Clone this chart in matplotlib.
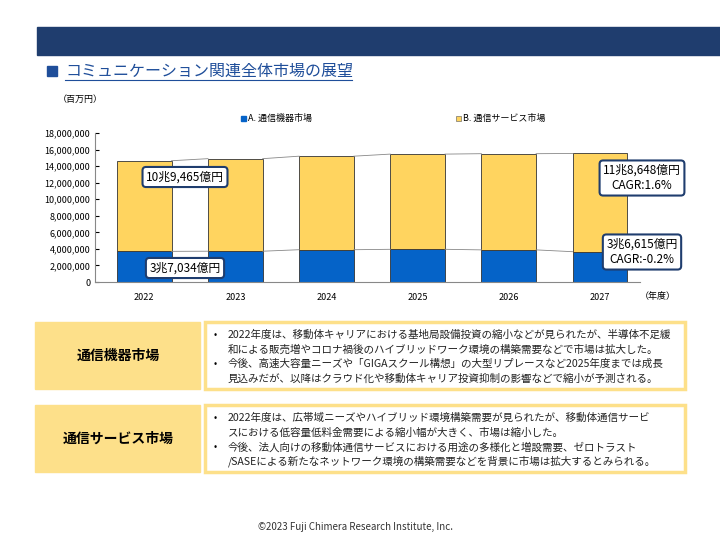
import matplotlib.pyplot as plt
import matplotlib.patches as patches
import numpy as np

plt.rcParams['font.family'] = ['Noto Sans CJK JP', 'DejaVu Sans']

years = ['2022', '2023', '2024', '2025', '2026', '2027']
device = [3703400, 3720000, 3900000, 3950000, 3880000, 3661500]
service = [10946500, 11180000, 11300000, 11500000, 11620000, 11864800]
yticks = list(range(0, 18000001, 2000000))

W, H = 720, 540
fig = plt.figure(figsize=(7.2, 5.4), dpi=100)

def rect(x, y, w, h, **kw):
    # pixel coords, y from top
    fig.patches.append(patches.Rectangle((x / W, 1 - (y + h) / H), w / W, h / H,
                                         transform=fig.transFigure, **kw))

def txt(x, y, s, **kw):
    fig.text(x / W, 1 - y / H, s, **kw)

rect(37, 27, 683, 28, color='#1f3d6e')
rect(47, 66, 10, 10, color='#1f4e9a')
txt(65, 71, 'コミュニケーション関連全体市場の展望', fontsize=11.5, color='#1f4e9a',
    va='center')
fig.lines.append(plt.Line2D([65 / W, 352 / W], [1 - 80 / H, 1 - 80 / H],
                            transform=fig.transFigure, color='#1f4e9a', lw=0.8))

ax = fig.add_axes([95 / W, 1 - 282 / H, (640 - 95) / W, (282 - 133) / H])
x = np.arange(len(years))
bw = 0.6
ax.bar(x, device, bw, color='#0563c8', edgecolor='#333333', lw=0.6)
ax.bar(x, service, bw, bottom=device, color='#ffd45f', edgecolor='#333333', lw=0.6)
tot = np.array(device) + np.array(service)
for i in range(len(x) - 1):
    ax.plot([x[i] + bw / 2, x[i + 1] - bw / 2], [tot[i], tot[i + 1]], color='#888888', lw=0.6)
    ax.plot([x[i] + bw / 2, x[i + 1] - bw / 2], [device[i], device[i + 1]], color='#888888', lw=0.6)
ax.set_xlim(-0.54, 5.44)
ax.set_ylim(0, 18000000)
ax.set_yticks(yticks)
ax.set_yticklabels([f'{v:,}' for v in yticks], fontsize=6.5)
ax.set_xticks(x)
ax.set_xticklabels(years, fontsize=6.5)
ax.tick_params(axis='x', length=0, pad=8)
ax.tick_params(axis='y', length=3, direction='in')
for s in ['top', 'right']:
    ax.spines[s].set_visible(False)
ax.spines['left'].set_color('#888888')
ax.spines['bottom'].set_color('#888888')

txt(58, 99, '（百万円）', fontsize=6.5, va='center')
txt(640, 297, '（年度）', fontsize=6.5, va='center')
rect(241, 116, 5, 5, color='#0563c8')
txt(248, 118, 'A. 通信機器市場', fontsize=6.5, va='center')
rect(456, 116, 5, 5, color='#ffd45f', ec='#555555', lw=0.4)
txt(463, 118, 'B. 通信サービス市場', fontsize=6.5, va='center')

box = dict(boxstyle='round,pad=0.3', fc='white', ec='#1f3d6e', lw=1.5)
txt(185, 177, '10兆9,465億円', fontsize=8.5, ha='center', va='center', bbox=box)
txt(185, 268, '3兆7,034億円', fontsize=8.5, ha='center', va='center', bbox=box)
txt(642, 178, '11兆8,648億円\nCAGR:1.6%', fontsize=8.5, ha='center', va='center',
    bbox=box, linespacing=1.2)
txt(642, 252, '3兆6,615億円\nCAGR:-0.2%', fontsize=8.5, ha='center', va='center',
    bbox=box, linespacing=1.2)

panels = [
    ('通信機器市場', 322,
     ['2022年度は、移動体キャリアにおける基地局設備投資の縮小などが見られたが、半導体不足緩',
      '和による販売増やコロナ禍後のハイブリッドワーク環境の構築需要などで市場は拡大した。',
      '今後、高速大容量ニーズや「GIGAスクール構想」の大型リプレースなど2025年度までは成長',
      '見込みだが、以降はクラウド化や移動体キャリア投資抑制の影響などで縮小が予測される。']),
    ('通信サービス市場', 405,
     ['2022年度は、広帯域ニーズやハイブリッド環境構築需要が見られたが、移動体通信サービ',
      'スにおける低容量低料金需要による縮小幅が大きく、市場は縮小した。',
      '今後、法人向けの移動体通信サービスにおける用途の多様化と増設需要、ゼロトラスト',
      '/SASEによる新たなネットワーク環境の構築需要などを背景に市場は拡大するとみられる。']),
]
for title, y0, lines in panels:
    rect(35, y0, 165, 67, color='#fde08a')
    txt(118, y0 + 34, title, fontsize=10, fontweight='bold', ha='center', va='center')
    rect(205, y0, 480, 67, fc='white', ec='#fde08a', lw=2.5)
    for j, ln in enumerate(lines):
        yy = y0 + 13 + j * 14.5
        if j in (0, 2):
            txt(214, yy, '•', fontsize=7, va='center')
        txt(228, yy, ln, fontsize=7.6, va='center', color='#222222')

txt(355, 527, '©2023 Fuji Chimera Research Institute, Inc.', fontsize=7, ha='center',
    va='center', color='#333333')

fig.savefig('out.png', dpi=100)
